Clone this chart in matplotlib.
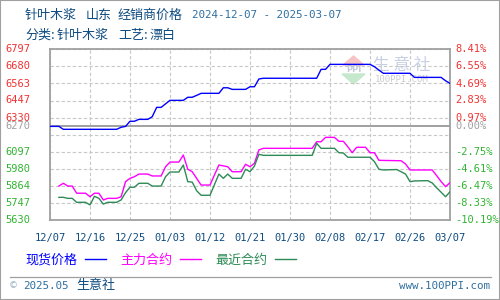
import matplotlib
matplotlib.use('Agg')
import matplotlib.pyplot as plt
import matplotlib.transforms as mtransforms
from matplotlib.lines import Line2D
from matplotlib.patches import Polygon, Rectangle

plt.rcParams['font.family'] = ['Noto Sans CJK SC', 'DejaVu Sans']

# 数据：距 2024-12-07 的天数, 价格(元/吨)
spot_days = [0, 2, 3, 15, 16, 17, 18, 19, 20, 22, 23, 24, 25, 27, 30, 31, 32, 33, 34, 38,
             39, 40, 41, 44, 45, 46, 47, 48, 60, 61, 62, 63, 72, 73, 74, 75, 81, 82, 88, 89, 90]
spot_vals = [6270, 6270, 6250, 6250, 6264, 6270, 6305, 6305, 6318, 6318, 6336, 6400, 6400, 6448, 6448,
             6469, 6469, 6482, 6496, 6496, 6534, 6534, 6523, 6523, 6541, 6541, 6594, 6599, 6599, 6660,
             6660, 6694, 6694, 6678, 6655, 6633, 6633, 6605, 6605, 6582, 6564]

main_days = [2, 3, 4, 5, 6, 8, 9, 10, 11, 12, 13, 15, 16, 17, 18, 19, 20, 22, 23, 25, 26, 27, 29,
             30, 31, 32, 34, 36, 38, 39, 40, 41, 43, 44, 45, 46, 47, 48, 59, 60, 61, 62, 64, 65, 66,
             67, 68, 69, 71, 72, 73, 74, 79, 80, 81, 86, 87, 88, 89, 90]
main_vals = [5862, 5881, 5862, 5862, 5813, 5813, 5789, 5813, 5813, 5767, 5778, 5778, 5789, 5892, 5915,
             5926, 5944, 5944, 5931, 5931, 5994, 6026, 6026, 6074, 5977, 5960, 5869, 5869, 6006, 6000,
             5994, 5960, 5960, 6011, 5994, 6018, 6109, 6120, 6120, 6165, 6165, 6195, 6195, 6168, 6168,
             6131, 6090, 6127, 6127, 6090, 6090, 6038, 6035, 6013, 5972, 5972, 5933, 5893, 5858, 5885]

near_days = [2, 3, 4, 5, 6, 8, 9, 10, 11, 12, 13, 15, 16, 17, 18, 19, 20, 22, 23, 25, 26, 27, 29,
             30, 31, 32, 33, 34, 36, 38, 39, 40, 41, 43, 44, 45, 46, 47, 48, 59, 60, 61, 64, 65, 66,
             67, 72, 73, 74, 75, 78, 79, 80, 81, 82, 85, 86, 87, 88, 89, 90]
near_vals = [5785, 5785, 5778, 5778, 5751, 5751, 5733, 5792, 5778, 5739, 5751, 5751, 5767, 5817, 5854,
             5854, 5881, 5881, 5862, 5862, 5926, 5958, 5958, 6006, 5892, 5889, 5830, 5799, 5799, 5944,
             5915, 5944, 5915, 5915, 5977, 5960, 5999, 6079, 6072, 6072, 6154, 6120, 6120, 6090, 6088,
             6059, 6059, 6029, 5977, 5972, 5975, 5960, 5944, 5892, 5897, 5899, 5883, 5850, 5820, 5789, 5823]

base_price = 6270
y_min, y_max = 5630, 6797
x_ticks = [0, 9, 18, 27, 36, 45, 54, 63, 72, 81, 90]
x_labels = ['12/07', '12/16', '12/25', '01/03', '01/12', '01/21', '01/30', '02/08', '02/17', '02/26', '03/07']
up_vals = [6797, 6680, 6563, 6447, 6330]
up_pct = ['8.41%', '6.55%', '4.69%', '2.83%', '0.97%']
low_vals = [6097, 5980, 5864, 5747, 5630]
low_pct = ['-2.75%', '-4.61%', '-6.47%', '-8.33%', '-10.19%']

RED = '#f03232'
GREEN = '#32b432'
GRAY = '#a0a0a0'
DARKBLUE = '#0f4c81'
MIDBLUE = '#2f6f9f'
MONO = 'DejaVu Sans Mono'


def px(x):
    return x / 500


def py(y):
    return 1 - y / 300


fig = plt.figure(figsize=(5, 3), dpi=100)
ax = fig.add_axes([px(50), py(220), px(400), py(49.3) - py(220)])

ax.plot(spot_days, spot_vals, color='#0000ff', lw=1.0, label='现货价格', zorder=3)
ax.plot(main_days, main_vals, color='#ff00ff', lw=1.0, label='主力合约', zorder=3)
ax.plot(near_days, near_vals, color='#2e8b57', lw=1.0, label='最近合约', zorder=3)

ax.set_xlim(0, 90)
ax.set_ylim(y_min, y_max)
grid_y = [y_min + i * (y_max - y_min) / 10 for i in range(11)]
ax.set_yticks(grid_y)
ax.set_xticks(x_ticks, x_labels)
ax.tick_params(axis='y', left=False, labelleft=False)
ax.tick_params(axis='x', length=0, pad=9, labelsize=7.5, labelcolor=DARKBLUE)
for lab in ax.get_xticklabels():
    lab.set_family(MONO)
ax.grid(True, color='#c8c8c8', ls=(0, (3, 2)), lw=0.8, zorder=1)
ax.axhline(base_price, color=GRAY, lw=1.4, zorder=2)
for sp in ax.spines.values():
    sp.set_color(GRAY)
    sp.set_linewidth(1.3)

# 左右刻度标签
trans = mtransforms.blended_transform_factory(fig.transFigure, ax.transData)
for v, p in zip(up_vals, up_pct):
    ax.text(px(5), v, str(v), transform=trans, family=MONO, fontsize=7.5, color=RED, va='center')
    ax.text(px(455), v, p, transform=trans, family=MONO, fontsize=7.5, color=RED, va='center')
ax.text(px(5), base_price, str(base_price), transform=trans, family=MONO, fontsize=7.5, color=GRAY, va='center')
ax.text(px(455), base_price, '0.00%', transform=trans, family=MONO, fontsize=7.5, color=GRAY, va='center')
for v, p in zip(low_vals, low_pct):
    ax.text(px(5), v, str(v), transform=trans, family=MONO, fontsize=7.5, color=GREEN, va='center')
    ax.text(px(455), v, p, transform=trans, family=MONO, fontsize=7.5, color=GREEN, va='center')

# 水印
ax.add_patch(Polygon([(px(343), py(65)), (px(364), py(65)), (px(353.5), py(56))],
                     closed=True, transform=fig.transFigure, color='#f6c4c4', zorder=1.5))
ax.add_patch(Polygon([(px(342), py(74)), (px(365), py(74)), (px(353.5), py(84))],
                     closed=True, transform=fig.transFigure, color='#c6e8cc', zorder=1.5))
ax.text(px(353.5), py(69.5), 'PPI', transform=fig.transFigure, family='DejaVu Sans', fontsize=6,
        weight='bold', color='#c3cadc', ha='center', va='center', zorder=1.5)
ax.text(px(402), py(65.5), '生 意 社', transform=fig.transFigure, fontsize=12, color='#c8d0e4',
        ha='center', va='center', zorder=1.5)
ax.text(px(402), py(80), '100PPI.COM', transform=fig.transFigure, family=MONO, fontsize=6.5,
        color='#cccccc', ha='center', va='center', zorder=1.5)

# 标题
fig.text(px(25), py(15), '针叶木浆', fontsize=9.4, color=DARKBLUE, va='center')
fig.text(px(86), py(15), '山东', fontsize=9.4, color=DARKBLUE, va='center')
fig.text(px(118), py(15), '经销商价格', fontsize=9.4, color=DARKBLUE, va='center')
fig.text(px(192), py(15), '2024-12-07 - 2025-03-07', family=MONO, fontsize=7.8, color=MIDBLUE, va='center')
fig.text(px(25), py(35), '分类:', fontsize=9.4, color=DARKBLUE, va='center')
fig.text(px(57), py(35), '针叶木浆', fontsize=9.4, color=DARKBLUE, va='center')
fig.text(px(118), py(35), '工艺:', fontsize=9.4, color=DARKBLUE, va='center')
fig.text(px(150), py(35), '漂白', fontsize=9.4, color=DARKBLUE, va='center')

# 图例
leg = ax.legend(loc='center left', bbox_to_anchor=(px(25), py(260)), bbox_transform=fig.transFigure,
                ncol=3, markerfirst=False, frameon=False, fontsize=9.4, borderpad=0, borderaxespad=0,
                handlelength=1.6, handletextpad=0.6, columnspacing=1.1)
for t, c in zip(leg.get_texts(), ['#0000ff', '#ff00ff', '#2e8b57']):
    t.set_color(c)

# 页脚
fig.add_artist(Line2D([px(10), px(491)], [py(277), py(277)], color=GRAY, lw=0.9))
fig.text(px(9), py(286), '©', family='DejaVu Sans', fontsize=6.5, color='#9ab0c4', va='center')
fig.text(px(23), py(286), '2025.05', family=MONO, fontsize=7.8, color=MIDBLUE, va='center')
fig.text(px(76), py(286), '生意社', fontsize=9.4, color=DARKBLUE, va='center')
fig.text(px(490), py(286), 'www.100PPI.com', family=MONO, fontsize=7.8, color=MIDBLUE, va='center', ha='right')
fig.add_artist(Rectangle((0, 0), 1, 1, transform=fig.transFigure, fill=False, ec=GRAY, lw=1.5))

fig.savefig('out.png', dpi=100)
